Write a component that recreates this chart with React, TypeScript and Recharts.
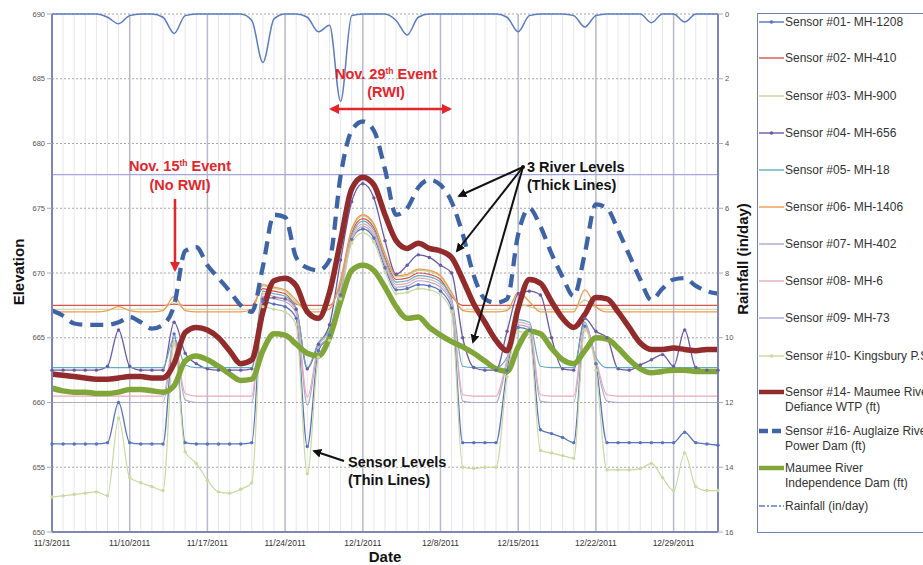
import { CartesianGrid, Line, LineChart, ReferenceLine, XAxis, YAxis } from "recharts";

const dates = [
  "11/3/2011", "11/4/2011", "11/5/2011", "11/6/2011", "11/7/2011", "11/8/2011", "11/9/2011", "11/10/2011",
  "11/11/2011", "11/12/2011", "11/13/2011", "11/14/2011", "11/15/2011", "11/16/2011", "11/17/2011",
  "11/18/2011", "11/19/2011", "11/20/2011", "11/21/2011", "11/22/2011", "11/23/2011", "11/24/2011",
  "11/25/2011", "11/26/2011", "11/27/2011", "11/28/2011", "11/29/2011", "11/30/2011", "12/1/2011",
  "12/2/2011", "12/3/2011", "12/4/2011", "12/5/2011", "12/6/2011", "12/7/2011", "12/8/2011",
  "12/9/2011", "12/10/2011", "12/11/2011", "12/12/2011", "12/13/2011", "12/14/2011", "12/15/2011",
  "12/16/2011", "12/17/2011", "12/18/2011", "12/19/2011", "12/20/2011", "12/21/2011", "12/22/2011",
  "12/23/2011", "12/24/2011", "12/25/2011", "12/26/2011", "12/27/2011", "12/28/2011", "12/29/2011",
  "12/30/2011", "12/31/2011", "1/1/2012", "1/2/2012",
];

const weekTicks = [
  "11/3/2011", "11/10/2011", "11/17/2011", "11/24/2011", "12/1/2011",
  "12/8/2011", "12/15/2011", "12/22/2011", "12/29/2011",
];
const elevationTicks = [650, 655, 660, 665, 670, 675, 680, 685, 690];
const rainTicks = [0, 2, 4, 6, 8, 10, 12, 14, 16];

const sensor01 = [
  656.8, 656.8, 656.8, 656.8, 656.8, 656.9, 660.0, 656.9, 656.8, 656.8,
  656.8, 665.3, 656.9, 656.8, 656.8, 656.8, 656.8, 656.8, 656.9, 667.8,
  667.6, 667.4, 666.5, 656.6, 664.0, 665.2, 668.3, 672.6, 673.4, 672.7,
  670.4, 668.7, 668.8, 669.1, 669.0, 668.6, 667.3, 656.9, 656.9, 656.9,
  656.9, 662.5, 665.8, 665.6, 657.9, 657.6, 657.3, 656.9, 665.9, 663.0,
  656.9, 656.9, 656.9, 656.9, 656.9, 656.9, 656.9, 657.7, 656.9, 656.8,
  656.7,
];
const sensor02 = [
  667.5, 667.5, 667.5, 667.5, 667.5, 667.5, 667.5, 667.5, 667.5, 667.5,
  667.5, 667.6, 667.5, 667.5, 667.5, 667.5, 667.5, 667.5, 667.5, 668.8,
  668.6, 668.4, 667.6, 667.5, 667.5, 667.5, 669.2, 673.1, 674.2, 673.5,
  671.2, 669.5, 669.6, 670.0, 669.9, 669.5, 668.2, 667.5, 667.5, 667.5,
  667.5, 667.5, 667.5, 667.5, 667.5, 667.5, 667.5, 667.5, 667.5, 667.5,
  667.5, 667.5, 667.5, 667.5, 667.5, 667.5, 667.5, 667.5, 667.5, 667.5,
  667.5,
];
const sensor03 = [
  667.2, 667.2, 667.2, 667.2, 667.2, 667.2, 667.2, 667.2, 667.2, 667.2,
  667.2, 667.8, 667.2, 667.2, 667.2, 667.2, 667.2, 667.2, 667.2, 669.0,
  668.8, 668.6, 667.7, 667.2, 667.2, 667.3, 669.4, 673.3, 674.4, 673.7,
  671.4, 669.7, 669.8, 670.2, 670.1, 669.7, 668.4, 667.2, 667.2, 667.2,
  667.2, 667.2, 667.6, 667.4, 667.2, 667.2, 667.2, 667.2, 667.9, 667.3,
  667.2, 667.2, 667.2, 667.2, 667.2, 667.2, 667.2, 667.2, 667.2, 667.2,
  667.2,
];
const sensor04 = [
  662.5, 662.5, 662.5, 662.5, 662.5, 662.8, 665.6, 662.8, 662.5, 662.5,
  662.5, 666.2, 663.8, 663.0, 662.6, 662.5, 662.5, 662.5, 662.6, 668.0,
  668.1, 668.0, 667.2, 662.6, 664.5, 666.0, 671.0, 675.5, 676.9, 675.8,
  672.5, 669.9, 670.6, 671.4, 671.2, 670.6, 670.0, 665.0, 662.7, 662.5,
  662.5, 665.5, 668.4, 668.6, 668.3, 665.0, 662.6, 662.5, 666.5, 665.5,
  665.0, 662.6, 662.5, 662.9, 663.3, 663.7, 662.8, 665.6, 662.7, 662.5,
  662.5,
];
const sensor05 = [
  662.7, 662.7, 662.7, 662.7, 662.7, 662.7, 662.7, 662.7, 662.7, 662.7,
  662.7, 665.0, 662.9, 662.7, 662.7, 662.7, 662.7, 662.7, 662.7, 668.6,
  668.4, 668.2, 667.3, 662.7, 664.6, 665.6, 669.0, 672.9, 674.0, 673.3,
  671.0, 669.3, 669.4, 669.8, 669.7, 669.3, 668.0, 662.8, 662.7, 662.7,
  662.7, 663.5, 666.4, 666.2, 662.8, 662.7, 662.7, 662.7, 666.2, 663.5,
  662.7, 662.7, 662.7, 662.7, 662.7, 662.7, 662.7, 662.7, 662.7, 662.7,
  662.7,
];
const sensor06 = [
  667.0, 667.0, 667.0, 667.0, 667.0, 667.1, 667.4, 667.1, 667.0, 667.0,
  667.1, 668.2, 667.1, 667.0, 667.0, 667.0, 667.0, 667.0, 667.2, 669.1,
  668.9, 668.7, 667.9, 667.0, 667.0, 667.2, 669.5, 673.4, 674.5, 673.8,
  671.5, 669.8, 669.9, 670.3, 670.2, 669.8, 668.5, 667.1, 667.0, 667.0,
  667.0, 667.1, 668.5, 667.8, 667.0, 667.0, 667.0, 667.0, 668.7, 667.4,
  667.0, 667.0, 667.0, 667.0, 667.0, 667.0, 667.0, 667.0, 667.0, 667.0,
  667.0,
];
const sensor07 = [
  660.0, 660.0, 660.0, 660.0, 660.0, 660.0, 660.0, 660.0, 660.0, 660.0,
  660.0, 664.6, 660.2, 660.0, 660.0, 660.0, 660.0, 660.0, 660.0, 668.2,
  668.0, 667.8, 666.9, 659.8, 664.2, 665.2, 668.6, 672.5, 673.6, 672.9,
  670.6, 668.9, 669.0, 669.4, 669.3, 668.9, 667.6, 660.1, 660.0, 660.0,
  660.0, 663.1, 666.0, 665.8, 660.1, 660.0, 660.0, 660.0, 665.8, 663.1,
  660.1, 660.0, 660.0, 660.0, 660.0, 660.0, 660.0, 660.0, 660.0, 660.0,
  660.0,
];
const sensor08 = [
  660.5, 660.5, 660.5, 660.5, 660.5, 660.5, 660.5, 660.5, 660.5, 660.5,
  660.5, 664.8, 660.7, 660.5, 660.5, 660.5, 660.5, 660.5, 660.5, 668.4,
  668.2, 668.0, 667.1, 660.4, 664.4, 665.4, 668.8, 672.7, 673.8, 673.1,
  670.8, 669.1, 669.2, 669.6, 669.5, 669.1, 667.8, 660.6, 660.5, 660.5,
  660.5, 663.3, 666.2, 666.0, 660.6, 660.5, 660.5, 660.5, 666.0, 663.3,
  660.6, 660.5, 660.5, 660.5, 660.5, 660.5, 660.5, 660.5, 660.5, 660.5,
  660.5,
];
const sensor09 = [
  677.6, 677.6, 677.6, 677.6, 677.6, 677.6, 677.6, 677.6, 677.6, 677.6,
  677.6, 677.6, 677.6, 677.6, 677.6, 677.6, 677.6, 677.6, 677.6, 677.6,
  677.6, 677.6, 677.6, 677.6, 677.6, 677.6, 677.6, 677.6, 677.6, 677.6,
  677.6, 677.6, 677.6, 677.6, 677.6, 677.6, 677.6, 677.6, 677.6, 677.6,
  677.6, 677.6, 677.6, 677.6, 677.6, 677.6, 677.6, 677.6, 677.6, 677.6,
  677.6, 677.6, 677.6, 677.6, 677.6, 677.6, 677.6, 677.6, 677.6, 677.6,
  677.6,
];
const sensor10 = [
  652.7, 652.8, 652.9, 653.0, 653.1, 652.8, 658.8, 654.2, 653.8, 653.5,
  653.2, 664.5, 656.2, 655.3, 654.0, 653.1, 653.0, 653.3, 653.8, 667.4,
  667.2, 667.0, 666.0, 654.5, 663.5, 664.8, 668.0, 672.3, 673.1, 672.4,
  670.1, 668.4, 668.5, 668.8, 668.7, 668.3, 667.0, 655.0, 654.9, 655.0,
  655.0, 662.0, 665.5, 665.3, 656.3, 656.1, 655.9, 655.7, 665.6, 662.5,
  654.8, 654.8, 654.8, 654.9, 655.3, 654.2, 653.2, 656.1, 653.5, 653.2,
  653.2,
];
const maumeeDefiance = [
  662.2, 662.1, 662.0, 661.9, 661.8, 661.8, 661.9, 662.0, 662.0, 661.9,
  661.9, 663.0, 665.4, 665.8, 665.6, 665.0, 664.0, 663.0, 663.3, 667.0,
  669.4, 669.6, 669.0, 667.0, 666.5, 668.5, 672.5, 676.5, 677.4, 676.8,
  674.5, 672.5, 671.9, 672.3, 671.9, 671.7, 671.2, 669.5, 667.6, 666.2,
  664.8, 664.0, 667.3, 669.5, 669.2, 667.8, 666.5, 665.8, 666.8, 668.1,
  668.0, 667.0, 665.8, 664.6, 664.1, 664.1, 664.2, 664.1, 664.0, 664.1,
  664.1,
];
const auglaizePowerDam = [
  667.1, 666.7, 666.1, 666.0, 666.0, 666.0, 666.2, 666.6, 666.2, 665.7,
  666.0, 667.5, 671.7, 672.0, 670.6, 669.6, 668.6, 667.5, 667.0, 670.5,
  674.5, 674.3, 671.2, 670.4, 670.2, 671.0, 677.5, 681.0, 681.7, 681.0,
  678.0, 674.5, 675.0, 676.6, 677.2, 676.8, 675.5, 673.0, 669.8, 668.0,
  667.7, 668.0, 673.0, 675.0, 673.6, 671.5, 669.7, 668.2, 671.5, 675.3,
  675.0, 673.3, 671.4, 669.5, 667.9, 668.8, 669.5, 669.6, 669.0, 668.6,
  668.4,
];
const maumeeIndependence = [
  661.1, 660.9, 660.8, 660.8, 660.7, 660.7, 660.8, 661.0, 661.0, 660.9,
  660.8, 661.3, 663.2, 663.6, 663.3, 662.8, 662.2, 661.7, 661.8, 664.0,
  665.3, 665.2, 664.5, 663.8, 663.6, 665.0, 667.8, 670.2, 670.6, 670.2,
  668.9, 667.4, 666.5, 666.6, 665.8, 665.2, 664.7, 664.3, 663.8, 663.2,
  662.6, 662.4, 664.3, 665.5, 665.3, 664.2, 663.3, 663.0, 664.0, 665.0,
  664.9, 664.2, 663.3, 662.6, 662.3, 662.4, 662.5, 662.5, 662.4, 662.4,
  662.4,
];
const rainfall = [
  0, 0, 0, 0, 0, 0.1, 0.3, 0.05, 0, 0,
  0.1, 0.6, 0.05, 0, 0, 0, 0, 0, 0.2, 1.5,
  0.15, 0, 0, 0.1, 0.55, 0.35, 2.7, 0.05, 0, 0,
  0, 0.2, 0.65, 0.1, 0, 0, 0, 0, 0, 0,
  0, 0.1, 0.55, 0.05, 0, 0, 0, 0.05, 0.4, 0.05,
  0, 0, 0, 0, 0.27, 0, 0, 0.25, 0, 0,
  0,
];

type SeriesDef = {
  key: string;
  label: string[];
  values: number[];
  color: string;
  width: number;
  dash?: string;
  marker?: boolean;
  right?: boolean;
};

const series: SeriesDef[] = [
  { key: "s01", label: ["Sensor #01- MH-1208"], values: sensor01, color: "#5873bd", width: 1.3, marker: true },
  { key: "s02", label: ["Sensor #02- MH-410"], values: sensor02, color: "#d4554f", width: 1.2 },
  { key: "s03", label: ["Sensor #03- MH-900"], values: sensor03, color: "#c3d296", width: 1.2 },
  { key: "s04", label: ["Sensor #04- MH-656"], values: sensor04, color: "#6a5aa6", width: 1.3, marker: true },
  { key: "s05", label: ["Sensor #05- MH-18"], values: sensor05, color: "#62acbd", width: 1.2 },
  { key: "s06", label: ["Sensor #06- MH-1406"], values: sensor06, color: "#f19a4e", width: 1.3 },
  { key: "s07", label: ["Sensor #07- MH-402"], values: sensor07, color: "#adaacb", width: 1.2 },
  { key: "s08", label: ["Sensor #08- MH-6"], values: sensor08, color: "#e8a9b4", width: 1.2 },
  { key: "s09", label: ["Sensor #09- MH-73"], values: sensor09, color: "#a4a6da", width: 1.2 },
  { key: "s10", label: ["Sensor #10- Kingsbury P.S"], values: sensor10, color: "#c9d9a0", width: 1.2, marker: true },
  { key: "s14", label: ["Sensor #14- Maumee River", "Defiance WTP (ft)"], values: maumeeDefiance, color: "#922b2b", width: 5.5 },
  { key: "s16", label: ["Sensor #16- Auglaize River", "Power Dam (ft)"], values: auglaizePowerDam, color: "#3f64a6", width: 4.3, dash: "13 8" },
  { key: "mid", label: ["Maumee River", "Independence Dam (ft)"], values: maumeeIndependence, color: "#80a63a", width: 5.5 },
  { key: "rain", label: ["Rainfall (in/day)"], values: rainfall, color: "#5a7cc0", width: 1.5, right: true },
];

const rows = dates.map((date, i) => {
  const row: Record<string, string | number> = { date };
  series.forEach((s) => {
    row[s.key] = s.values[i];
  });
  return row;
});

const legendTops = [22, 58, 96, 133, 170, 207, 244, 281, 318, 356, 392, 431, 468, 506];
const font = '"Liberation Sans", Arial, sans-serif';
const axisBlue = "#7d86b6";

function LegendSample({ s }: { s: SeriesDef }) {
  const isRain = s.key === "rain";
  return (
    <svg width={27} height={14} style={{ position: "absolute", left: 0, top: 0 }}>
      <line
        x1={1}
        x2={26}
        y1={7}
        y2={7}
        stroke={s.color}
        strokeWidth={s.width > 3 ? 4.5 : 1.4}
        strokeDasharray={s.dash ? "9 4" : isRain ? "6 2 2 2" : undefined}
      />
      {s.marker && <circle cx={13.5} cy={7} r={1.8} fill={s.color} />}
    </svg>
  );
}

function Legend() {
  return (
    <div
      style={{
        position: "absolute",
        left: 757,
        top: 13,
        width: 200,
        height: 520,
        border: "1.5px solid #6f80b6",
        boxSizing: "border-box",
      }}
    >
      {series.map((s, i) => (
        <div key={s.key} style={{ position: "absolute", left: 0, top: legendTops[i] - 13 - 8, width: 200, height: 32 }}>
          <LegendSample s={s} />
          <div
            style={{
              position: "absolute",
              left: 27,
              top: 0,
              fontSize: 12,
              lineHeight: "15px",
              color: "#333",
              fontFamily: font,
              whiteSpace: "nowrap",
            }}
          >
            {s.label.map((t) => (
              <div key={t}>{t}</div>
            ))}
          </div>
        </div>
      ))}
    </div>
  );
}

function Annotations() {
  const red = "#e2262b";
  return (
    <svg width={923} height={565} style={{ position: "absolute", left: 0, top: 0, pointerEvents: "none" }}>
      <defs>
        <marker id="headRed" viewBox="0 0 10 10" refX="8" refY="5" markerWidth="4" markerHeight="4" orient="auto-start-reverse">
          <path d="M0,0 L10,5 L0,10 z" fill={red} />
        </marker>
        <marker id="headBlack" viewBox="0 0 10 10" refX="8" refY="5" markerWidth="4.5" markerHeight="4.5" orient="auto-start-reverse">
          <path d="M0,0 L10,5 L0,10 z" fill="#111" />
        </marker>
      </defs>
      <g fontFamily={font} fontWeight="bold" fill={red} textAnchor="middle" fontSize={14.5}>
        <text x={180} y={171}>
          <tspan>Nov. 15</tspan>
          <tspan dy={-5} fontSize={8.5}>th</tspan>
          <tspan dy={5}> Event</tspan>
        </text>
        <text x={180} y={190}>(No RWI)</text>
        <text x={386} y={79}>
          <tspan>Nov. 29</tspan>
          <tspan dy={-5} fontSize={8.5}>th</tspan>
          <tspan dy={5}> Event</tspan>
        </text>
        <text x={386} y={97}>(RWI)</text>
      </g>
      <line x1={175} y1={199} x2={175} y2={270} stroke={red} strokeWidth={2.5} markerEnd="url(#headRed)" />
      <line x1={331} y1={109} x2={450} y2={109} stroke={red} strokeWidth={2.5} markerStart="url(#headRed)" markerEnd="url(#headRed)" />

      <g fontFamily={font} fontWeight="bold" fill="#111" fontSize={14.5}>
        <text x={527} y={172}>3 River Levels</text>
        <text x={527} y={190}>(Thick Lines)</text>
        <text x={348} y={467}>Sensor Levels</text>
        <text x={348} y={485}>(Thin Lines)</text>
      </g>
      <circle cx={523} cy={167} r={2} fill="#111" />
      <line x1={523} y1={167} x2={459} y2={196} stroke="#111" strokeWidth={2} markerEnd="url(#headBlack)" />
      <line x1={523} y1={167} x2={457} y2={251} stroke="#111" strokeWidth={2} markerEnd="url(#headBlack)" />
      <line x1={523} y1={167} x2={473} y2={342} stroke="#111" strokeWidth={2} markerEnd="url(#headBlack)" />
      <line x1={344} y1={461} x2={314} y2={451} stroke="#111" strokeWidth={2} markerEnd="url(#headBlack)" />
    </svg>
  );
}

function AxisTitles() {
  const base = {
    position: "absolute" as const,
    fontFamily: font,
    fontWeight: "bold" as const,
    fontSize: 15,
    color: "#111",
    whiteSpace: "nowrap" as const,
  };
  return (
    <>
      <div style={{ ...base, left: 18, top: 272, transform: "translate(-50%, -50%) rotate(-90deg)" }}>Elevation</div>
      <div style={{ ...base, left: 742, top: 259, transform: "translate(-50%, -50%) rotate(-90deg)" }}>Rainfall (in/day)</div>
      <div style={{ ...base, left: 385, top: 556, transform: "translate(-50%, -50%)" }}>Date</div>
    </>
  );
}

export default function App() {
  return (
    <div style={{ position: "absolute", left: 0, top: 0, width: 923, height: 565, overflow: "hidden", background: "#fff" }}>
      <LineChart width={760} height={565} data={rows} margin={{ top: 14, right: 0, bottom: 0, left: 0 }}>
        <CartesianGrid horizontal={false} stroke="#e6e6ee" />
        <CartesianGrid vertical={false} stroke="#a6a6a6" strokeDasharray="2 2" />
        {weekTicks.slice(1).map((t) => (
          <ReferenceLine key={t} x={t} stroke="#b8bbcb" strokeWidth={1.5} />
        ))}
        <XAxis
          dataKey="date"
          interval={0}
          tickLine={false}
          height={33}
          tickMargin={2}
          axisLine={{ stroke: axisBlue, strokeWidth: 2 }}
          tick={{ fontSize: 8.5, fill: "#333", fontFamily: font }}
          tickFormatter={(v: string) => (weekTicks.includes(v) ? v : "")}
        />
        <YAxis
          domain={[650, 690]}
          ticks={elevationTicks}
          width={52}
          tickSize={5}
          tickLine={{ stroke: "#aaa" }}
          axisLine={{ stroke: axisBlue, strokeWidth: 2 }}
          tick={{ fontSize: 7.5, fill: "#555", fontFamily: font }}
        />
        <YAxis
          yAxisId="right"
          orientation="right"
          domain={[0, 16]}
          reversed
          ticks={rainTicks}
          width={42}
          tickSize={5}
          tickLine={{ stroke: "#aaa" }}
          axisLine={{ stroke: axisBlue, strokeWidth: 2 }}
          tick={{ fontSize: 7.5, fill: "#555", fontFamily: font }}
        />
        {series.map((s) => (
          <Line
            key={s.key}
            dataKey={s.key}
            name={s.label.join(" ")}
            yAxisId={s.right ? "right" : 0}
            type="monotone"
            stroke={s.color}
            strokeWidth={s.width}
            strokeDasharray={s.dash}
            dot={s.marker ? { r: 1.7, fill: s.color, stroke: s.color, strokeWidth: 0 } : false}
            activeDot={false}
            isAnimationActive={false}
          />
        ))}
      </LineChart>
      <AxisTitles />
      <Legend />
      <Annotations />
    </div>
  );
}
